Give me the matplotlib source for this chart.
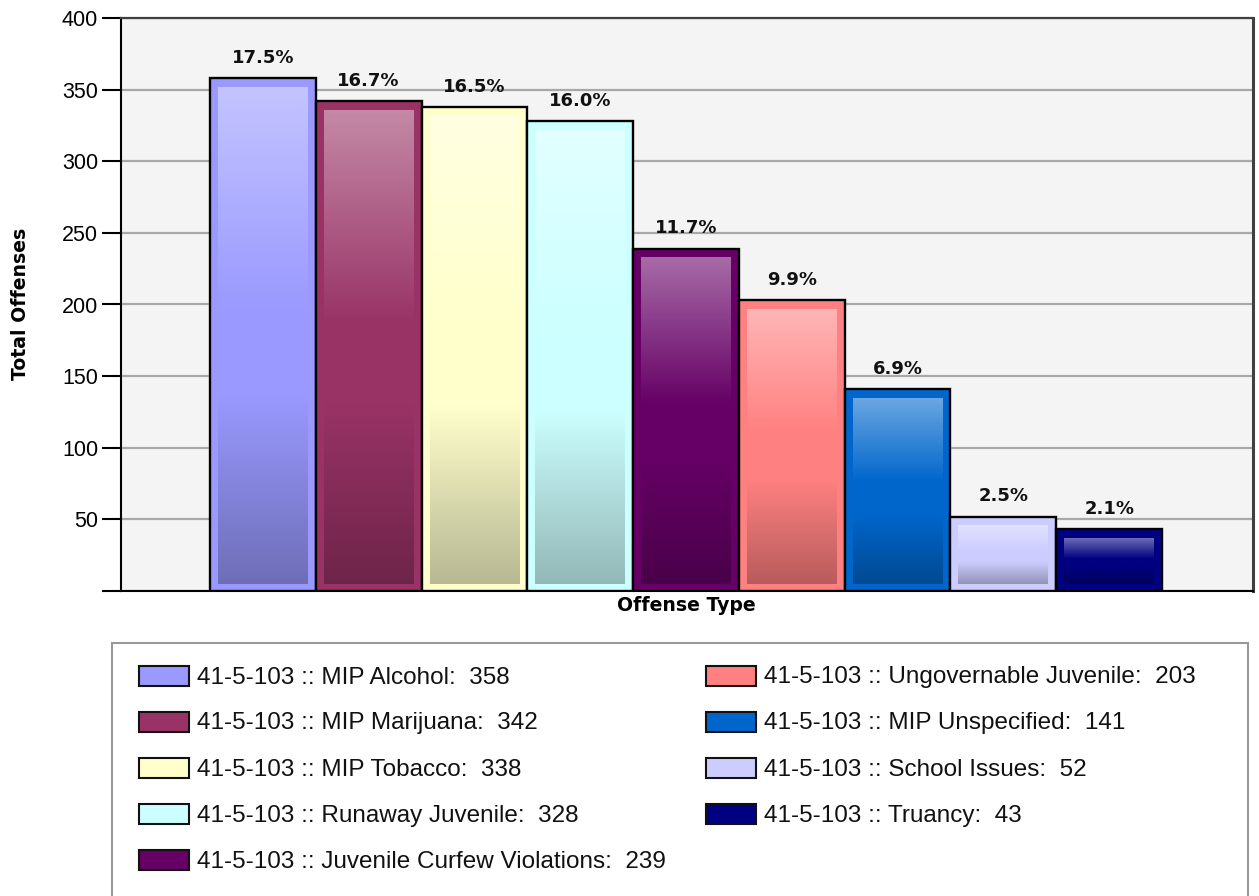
import numpy as np
import matplotlib
matplotlib.use('Agg')
import matplotlib.pyplot as plt
from matplotlib.colors import to_rgb
from matplotlib.patches import Rectangle

# ---- data ----
code = "41-5-103"
categories = ["MIP Alcohol", "MIP Marijuana", "MIP Tobacco", "Runaway Juvenile",
              "Juvenile Curfew Violations", "Ungovernable Juvenile", "MIP Unspecified",
              "School Issues", "Truancy"]
values = [358, 342, 338, 328, 239, 203, 141, 52, 43]
percents = [17.5, 16.7, 16.5, 16.0, 11.7, 9.9, 6.9, 2.5, 2.1]
colors = ["#9999ff", "#993366", "#ffffcc", "#ccffff", "#660066",
          "#ff8080", "#0066cc", "#ccccff", "#000080"]
y_ticks = [0, 50, 100, 150, 200, 250, 300, 350, 400]

W, H = 1259, 896
fig = plt.figure(figsize=(W / 100, H / 100), dpi=100)
fig.patch.set_facecolor('white')

ax_l, ax_r, ax_t, ax_b = 121, 1253, 18, 591
ax = fig.add_axes([ax_l / W, 1 - ax_b / H, (ax_r - ax_l) / W, (ax_b - ax_t) / H])
ax.set_facecolor('#f4f4f4')

x = np.arange(len(values))
px_x = 105.8
xlim = (-0.5 - (210 - ax_l) / px_x, len(values) - 0.5 + (ax_r - 1162) / px_x)
ylim = (0, 400)
px_y = (ax_b - ax_t) / 400.0

ax.bar(x, values, width=1.0, color=colors, edgecolor='black', linewidth=1.7, zorder=3)

t = np.linspace(0, 1, 256)
stops_t = [0.0, 0.45, 0.62, 1.0]
for xi, v, c in zip(x, values, colors):
    base = np.array(to_rgb(c))
    light = base + (1 - base) * 0.42
    dark = base * 0.72
    cols = [light, base, base, dark]
    grad = np.stack([np.interp(t, stops_t, [cc[k] for cc in cols]) for k in range(3)], axis=1)
    img = grad[:, None, :]
    ax.imshow(img, extent=(xi - 0.5 + 8 / px_x, xi + 0.5 - 8 / px_x, 7 / px_y, v - 9 / px_y),
              aspect='auto', origin='upper', interpolation='bilinear', zorder=4)

for xi, v, p in zip(x, values, percents):
    ax.annotate(f"{p:.1f}%", xy=(xi, v), xytext=(0, 11), textcoords='offset points',
                ha='center', va='baseline', fontsize=13, fontweight='bold',
                family='DejaVu Sans', color='#111111', zorder=5)

ax.set_xlim(*xlim)
ax.set_ylim(*ylim)
ax.set_xticks([])
ax.set_yticks(y_ticks)
ax.set_yticklabels(['' if v == 0 else str(v) for v in y_ticks], family='Liberation Sans', fontsize=15.5)
ax.tick_params(axis='y', length=13.5, width=1.5, pad=3, color='black')
ax.yaxis.grid(True, color='#a8a8a8', linewidth=1.6)
ax.set_axisbelow(True)
for s in ['left', 'bottom']:
    ax.spines[s].set_color('black')
    ax.spines[s].set_linewidth(1.5)
ax.spines['top'].set_color('#404040')
ax.spines['top'].set_linewidth(1.6)
ax.spines['right'].set_color('#404040')
ax.spines['right'].set_linewidth(2.2)

fig.text(21 / W, 1 - 304 / H, "Total Offenses", rotation=90, ha='center', va='center',
         fontsize=13.6, fontweight='bold', family='DejaVu Sans')
fig.text(686 / W, 1 - 605 / H, "Offense Type", ha='center', va='center',
         fontsize=13.6, fontweight='bold', family='DejaVu Sans')

# legend box
box = Rectangle((112 / W, -0.05), (1248 - 112) / W, (896 - 643) / H + 0.05,
                transform=fig.transFigure, fill=False, edgecolor='#999999', linewidth=1.5,
                clip_on=False)
fig.add_artist(box)

for i, (cat, v, c) in enumerate(zip(categories, values, colors)):
    col = 0 if i < 5 else 1
    row = i if i < 5 else i - 5
    sx = 139 if col == 0 else 706
    cy = 676 + row * 46
    sw = Rectangle((sx / W, 1 - (cy + 10) / H), 50 / W, 20 / H, transform=fig.transFigure,
                   facecolor=c, edgecolor='#111111', linewidth=1.5)
    fig.add_artist(sw)
    fig.text((sx + 58) / W, 1 - (cy + 7.5) / H, f"{code} :: {cat}:  {v}", ha='left', va='baseline',
             fontsize=17.5, family='Liberation Sans', color='#111111')

fig.savefig('out.png', dpi=100)
